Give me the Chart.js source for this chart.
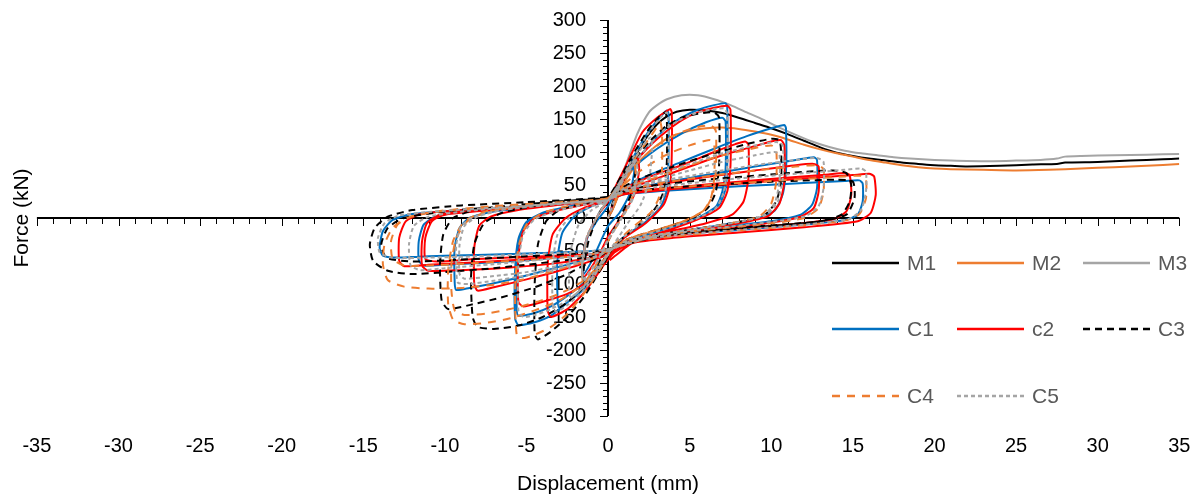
<!DOCTYPE html>
<html>
<head>
<meta charset="utf-8">
<script src="https://cdn.jsdelivr.net/npm/chart.js@4.4.1/dist/chart.umd.min.js"></script>
<style>
  html, body { margin: 0; padding: 0; background: #fff; }
  #wrap { position: relative; width: 1201px; height: 499px; }
  #legend { position: absolute; left: 0; top: 0; width: 1201px; height: 499px; pointer-events: none; }
  .li { position: absolute; height: 20px; display: flex; align-items: center; }
  .li span { font-family: "Liberation Sans", Arial, sans-serif; font-size: 21px; color: #595959; margin-left: 8px; line-height: 20px; }
</style>
</head>
<body>
<div id="wrap">
  <canvas id="c" width="1201" height="499"></canvas>
  <div id="legend"></div>
</div>
<script>
// ---------------- data (displacement mm, force kN) ----------------
const M1 = [[0,0],[0.3,15],[0.7,40],[1.2,70],[1.8,100],[2.4,124],[3,142],[3.6,154],[4.2,161],[5,164],[6,163],[7,159],[8,152],[9,144],[10,136],[11,127],[12,117],[13,107],[14,99],[15,94],[16,90],[17,87],[18,84],[19,82],[20,80],[21,79],[22,78],[24,79],[26,81],[27.5,82],[28,84],[30,85],[32,87],[34,89],[35,90]];
const M2 = [[0,0],[0.3,14],[0.7,38],[1.2,62],[1.8,83],[2.5,100],[3.2,114],[4,125],[5,132],[6,136],[7,137],[8,135],[9,131],[10,126],[11,119],[12,111],[13,104],[14,98],[15,93],[16,88],[17,84],[18,80],[19,77],[20,75],[21,74],[23,73],[25,72],[27,73],[29,75],[31,77],[33,79],[35,82]];
const M3 = [[0,0],[0.3,20],[0.7,52],[1.2,88],[1.8,128],[2.5,160],[3,171],[3.6,180],[4.5,186],[5.5,186],[6.5,180],[7.5,171],[8.5,160],[9.5,149],[10.5,137],[11.5,126],[12.5,116],[13.5,108],[14.5,102],[15.5,98],[16.5,95],[17.5,92],[18.5,90],[20,88],[21,87],[23,86],[25,87],[26.5,88],[27.5,90],[28,93],[29,94],[31,95],[33,96],[35,97]];

const C1 = [[0,0],[0.5,35],[1,65],[1.5,85],[1.6,70],[1.3,35],[0.7,8],[0,-12],[-0.5,-38],[-1,-65],[-1.5,-85],[-1.6,-65],[-1.3,-32],[-0.7,-5],[0,18],
[0.5,42],[1.5,90],[2.5,132],[3.3,156],[3.6,163],[3.7,158],[3.7,90],[3.6,42],[3.2,16],[2.2,-8],[1,-28],[0.3,-45],[-0.5,-75],[-1.5,-108],[-2.5,-128],[-3,-136],[-3.1,-120],[-3.1,-62],[-2.8,-22],[-2,4],[-1,18],[0,28],
[0.6,50],[1.5,80],[2.5,110],[3.5,135],[4.5,152],[5.5,164],[6.5,171],[7.2,174],[7.3,168],[7.3,80],[7.2,45],[6.8,20],[5.5,0],[3.5,-17],[1.5,-32],[0.4,-46],[-0.5,-74],[-1.5,-104],[-2.5,-128],[-3.5,-148],[-4.5,-158],[-5.5,-162],[-5.7,-152],[-5.7,-80],[-5.5,-32],[-5,-6],[-4,8],[-2.5,17],[-1,24],[0,28],
[0.6,48],[1.5,75],[3,105],[4.5,128],[6,145],[7,152],[7.2,146],[7.2,75],[7,40],[6.6,17],[5.4,-1],[3.4,-17],[1.4,-32],[0.4,-46],[-0.5,-70],[-1.5,-98],[-2.5,-118],[-3.5,-134],[-4.5,-144],[-5.5,-148],[-5.6,-138],[-5.6,-75],[-5.4,-30],[-4.9,-5],[-3.9,8],[-2.4,17],[-1,24],[0,28],
[1,45],[2.5,65],[4.5,85],[6.5,105],[8.5,124],[10,136],[10.8,141],[10.9,136],[10.9,70],[10.7,36],[10.2,11],[9,-2],[6,-14],[3,-26],[1,-37],[0.3,-46],[-1,-60],[-3,-74],[-5,-87],[-7,-99],[-8.5,-106],[-9.3,-109],[-9.4,-98],[-9.4,-45],[-9.1,-15],[-8.5,0],[-7,10],[-4,18],[-1.5,24],[0,28],
[1,40],[3,52],[6,65],[9,78],[11.5,88],[12.6,92],[12.8,88],[12.8,45],[12.5,20],[11.8,5],[10,-5],[6,-16],[3,-26],[1,-37],[0.3,-46],[-1,-55],[-4,-62],[-7,-67],[-10,-71],[-11.3,-72],[-11.6,-64],[-11.6,-35],[-11.3,-10],[-10.5,3],[-8,12],[-5,18],[-2,24],[0,28],
[1,36],[4,42],[8,48],[12,53],[14.5,56],[15.4,57],[15.6,52],[15.6,25],[15.3,5],[14.5,-3],[12,-10],[8,-18],[4,-26],[1,-38],[0.3,-46],[-1,-50],[-4,-53],[-8,-56],[-11,-58],[-13,-60],[-13.8,-57],[-14,-45],[-13.8,-20],[-13.2,-3],[-12,6],[-9,12],[-5,18],[-2,24],[0,28]];

const c2 = [[0,0],[0.5,35],[1,60],[1.8,90],[1.9,72],[1.6,35],[0.9,5],[0,-28],[-0.6,-58],[-1.5,-90],[-1.6,-70],[-1.3,-30],[-0.6,5],[0,25],
[0.5,50],[1.2,85],[2.1,130],[3,152],[3.8,165],[3.9,160],[3.9,95],[3.8,50],[3.4,20],[2.3,-8],[1,-30],[0.3,-50],[-0.5,-80],[-1.5,-114],[-2.5,-138],[-3.5,-150],[-3.7,-140],[-3.7,-70],[-3.4,-25],[-2.6,0],[-1.5,15],[0,28],
[0.6,50],[1.5,80],[2.5,108],[3.5,130],[4.5,148],[5.5,160],[6.5,167],[7.3,170],[7.5,164],[7.5,80],[7.3,40],[6.8,15],[5.5,-2],[3.5,-20],[1.5,-35],[0.4,-52],[-0.5,-78],[-1.5,-100],[-2.5,-115],[-4,-127],[-5.2,-134],[-5.5,-127],[-5.5,-60],[-5.2,-20],[-4.5,0],[-3,12],[-1.5,20],[0,28],
[1,45],[2.5,62],[4.5,80],[6.5,100],[7.8,112],[8.4,116],[8.6,111],[8.6,60],[8.3,25],[7.6,5],[6,-8],[3.5,-22],[1.2,-36],[0.4,-50],[-1,-65],[-3,-80],[-5,-93],[-7,-105],[-8,-110],[-8.2,-100],[-8.2,-45],[-7.9,-12],[-7.2,2],[-5.5,12],[-3,20],[-1,25],[0,28],
[1,42],[3,60],[5,78],[7,95],[9,109],[10.2,117],[10.6,118],[10.8,110],[10.8,55],[10.5,22],[9.8,3],[8,-8],[5,-20],[2,-32],[0.4,-50],[-1,-60],[-3,-68],[-6,-75],[-9,-79],[-11,-80],[-11.4,-72],[-11.4,-35],[-11.1,-8],[-10.3,5],[-8,12],[-5,18],[-2,24],[0,28],
[1,40],[3,50],[6,62],[9,72],[11.5,80],[12.6,82],[12.9,78],[12.9,40],[12.6,15],[11.8,2],[10,-7],[7,-16],[4,-25],[1.5,-34],[0.4,-50],[-1,-55],[-4,-61],[-8,-67],[-11,-71],[-12.5,-73],[-12.8,-65],[-12.8,-30],[-12.4,-5],[-11.5,6],[-9,12],[-5,18],[-2,24],[0,28],
[1,38],[4,46],[8,55],[11.5,62],[13.5,66],[14.5,68],[14.8,65],[14.9,35],[14.6,10],[13.8,-2],[11,-10],[7,-18],[4,-26],[1.5,-34],[0.4,-52],[-1,-55],[-4,-58],[-8,-62],[-10.5,-66],[-11.2,-62],[-11.2,-30],[-10.8,-5],[-10,5],[-7,12],[-4,18],[-1.5,24],[0,28],
[1,36],[4,44],[8,52],[12,60],[15,65],[16,67],[16.3,63],[16.4,35],[16.1,8],[15.3,-5],[12,-14],[8,-22],[4,-30],[1.5,-38],[0.5,-56],[0.1,-64]];

const C3 = [[0,0],[0.5,40],[1,70],[1.6,95],[1.7,75],[1.4,35],[0.7,0],[0,-35],[-0.6,-70],[-1.4,-105],[-1.5,-80],[-1.2,-35],[-0.6,5],[0,30],
[0.5,50],[1.5,95],[2.5,135],[3.2,155],[3.5,160],[3.6,150],[3.6,85],[3.4,40],[2.9,15],[2,-8],[1,-28],[0.3,-45],[-0.5,-80],[-1.5,-120],[-2.5,-150],[-3.5,-172],[-4.3,-184],[-4.5,-175],[-4.5,-100],[-4.3,-40],[-3.8,-5],[-3,12],[-1.5,22],[0,30],
[0.7,55],[1.5,85],[2.5,115],[3.5,138],[4.5,152],[5.5,158],[6.5,160],[6.8,152],[6.8,80],[6.6,40],[6.1,15],[5,-2],[3,-18],[1.2,-32],[0.3,-46],[-0.5,-75],[-1.5,-105],[-2.5,-128],[-4,-150],[-5.5,-163],[-7,-168],[-8,-165],[-8.3,-150],[-8.4,-90],[-8.2,-40],[-7.6,-8],[-6.5,8],[-4.5,18],[-2,25],[0,30],
[1,48],[2.5,65],[4.5,82],[6.5,98],[8.5,112],[10,120],[10.5,118],[10.6,100],[10.6,55],[10.3,25],[9.6,5],[8,-6],[5,-18],[2,-30],[0.3,-46],[-1,-65],[-2.5,-85],[-4.5,-105],[-6.5,-120],[-8.5,-132],[-9.8,-138],[-10.2,-125],[-10.3,-70],[-10.1,-25],[-9.5,0],[-8,13],[-5,21],[-2,27],[0,31],
[1,42],[3,50],[6,58],[9,64],[12,70],[13.8,72],[14.6,68],[14.9,50],[14.8,25],[14.3,5],[13,-5],[10,-12],[6,-20],[3,-28],[0.5,-44],[-1,-58],[-4,-68],[-7,-76],[-10,-82],[-12,-85],[-13.5,-80],[-14.4,-65],[-14.6,-40],[-14.3,-15],[-13.5,2],[-12,12],[-9,19],[-5,24],[-2,28],[0,32],
[1,40],[5,48],[10,55],[14,58],[15,55],[15.1,30],[14.6,5],[13,-5],[8,-15],[3,-28],[0.5,-44],[-1,-52],[-5,-58],[-9,-63],[-12,-66],[-13.6,-60],[-13.9,-40],[-13.5,-15],[-12.5,0],[-10,10],[-5,20],[0,30]];

const C4 = [[0,0],[0.5,30],[1,55],[1.6,80],[1.7,62],[1.4,25],[0.7,-5],[0,-35],[-0.6,-65],[-1.5,-100],[-1.6,-75],[-1.3,-30],[-0.6,5],[0,28],
[0.5,45],[1.5,85],[2.5,120],[3,138],[3.2,145],[3.3,130],[3.3,70],[3.1,30],[2.6,8],[1.6,-12],[0.8,-30],[0.2,-45],[-0.5,-78],[-1.5,-115],[-2.5,-145],[-3.5,-165],[-4.5,-177],[-5.2,-182],[-5.6,-177],[-5.7,-110],[-5.5,-45],[-5,-10],[-4,8],[-2.5,18],[-1,25],[0,30],
[0.7,50],[1.5,75],[2.5,100],[3.5,118],[4.5,130],[5.5,138],[6.3,140],[6.6,132],[6.6,70],[6.4,35],[5.9,12],[4.8,-3],[3,-18],[1.2,-32],[0.3,-46],[-0.5,-72],[-1.5,-100],[-3,-125],[-4.5,-140],[-6,-152],[-7.5,-159],[-8.8,-161],[-9.5,-154],[-9.8,-130],[-9.8,-80],[-9.5,-35],[-8.8,-5],[-7.5,10],[-5,19],[-2,25],[0,30],
[0.7,45],[2,72],[3.5,95],[5,110],[6.2,118],[6.5,112],[6.5,60],[6.3,30],[5.8,10],[4.7,-4],[3,-18],[1.2,-32],[0.3,-46],[-0.5,-70],[-1.5,-95],[-3,-115],[-4.5,-128],[-6,-138],[-7.5,-145],[-8.8,-147],[-9.4,-140],[-9.6,-110],[-9.6,-70],[-9.3,-30],[-8.6,-4],[-7.3,10],[-5,18],[-2,24],[0,29],
[1,45],[3,62],[5,80],[7,95],[9,106],[10,110],[10.3,104],[10.3,55],[10,22],[9.3,3],[7.5,-8],[4.5,-20],[2,-30],[0.3,-46],[-1,-62],[-3,-78],[-5,-92],[-7,-101],[-9,-106],[-11,-107],[-12.5,-104],[-13.5,-94],[-13.8,-70],[-13.7,-40],[-13.2,-15],[-12.3,0],[-10.5,10],[-7,18],[-3,24],[0,29],
[1,40],[3,52],[6,63],[9,72],[11.5,78],[12.8,80],[13.2,74],[13.2,40],[12.9,15],[12,0],[10,-8],[6,-18],[3,-27],[0.5,-44],[-1,-55],[-4,-62],[-8,-68],[-11,-72],[-12.5,-72],[-13.2,-62],[-13.3,-35],[-12.9,-10],[-12,3],[-9.5,12],[-5,19],[-2,25],[0,29],
[1,38],[4,46],[8,53],[12,59],[14.5,63],[15.5,64],[15.8,58],[15.8,30],[15.4,6],[14.5,-4],[11.5,-12],[7.5,-20],[4,-28],[1.5,-36],[0.3,-48]];

const C5 = [[0,0],[0.5,35],[1,62],[1.7,88],[1.8,70],[1.5,30],[0.8,0],[0,-32],[-0.6,-62],[-1.5,-95],[-1.6,-72],[-1.3,-30],[-0.6,5],[0,27],
[0.5,40],[1,60],[1.7,84],[1.8,65],[1.5,28],[0.8,-2],[0,-34],[-0.6,-62],[-1.5,-92],[-1.6,-70],[-1.3,-28],[-0.6,6],[0,27],
[0.5,42],[1.2,72],[2.2,112],[2.6,122],[2.7,105],[2.5,55],[2,20],[1.2,-8],[0.4,-38],[-0.5,-70],[-1.5,-104],[-2.3,-120],[-2.4,-100],[-2.3,-50],[-1.8,-10],[-1,12],[0,27],
[0.5,45],[1.5,90],[2.5,130],[3.2,152],[3.6,160],[3.7,150],[3.7,85],[3.5,40],[3,15],[2,-8],[1,-28],[0.3,-44],[-0.5,-75],[-1.5,-110],[-2.5,-132],[-3.2,-142],[-3.4,-130],[-3.4,-70],[-3.1,-25],[-2.4,0],[-1.3,15],[0,27],
[0.6,50],[1.5,80],[2.5,110],[3.5,135],[4.5,150],[5.5,160],[6.5,165],[7.1,166],[7.3,158],[7.3,80],[7.1,40],[6.6,15],[5.3,-2],[3.3,-18],[1.3,-33],[0.3,-46],[-0.5,-75],[-1.5,-105],[-2.5,-125],[-3.5,-138],[-4.5,-147],[-5.2,-150],[-5.5,-140],[-5.5,-70],[-5.2,-25],[-4.5,-2],[-3,12],[-1.5,20],[0,27],
[1,45],[3,65],[5,82],[7,98],[9,110],[10.3,115],[10.7,110],[10.7,60],[10.4,25],[9.7,5],[8,-6],[5,-18],[2,-30],[0.3,-46],[-1,-62],[-3,-76],[-5,-87],[-7,-95],[-8.5,-100],[-9.2,-98],[-9.3,-80],[-9.3,-40],[-9,-12],[-8.2,2],[-6.5,12],[-4,19],[-1.5,24],[0,27],
[1,42],[3,58],[5,72],[7,85],[9,95],[10.2,100],[10.5,96],[10.5,55],[10.2,22],[9.5,4],[8,-6],[5,-18],[2,-30],[0.3,-46],[-1,-60],[-3,-72],[-5,-82],[-7,-88],[-8.8,-92],[-9.1,-85],[-9.1,-40],[-8.8,-12],[-8,2],[-6.5,12],[-4,19],[-1.5,24],[0,27],
[1,42],[3,55],[6,68],[9,80],[11.5,88],[12.8,91],[13.2,85],[13.2,45],[12.9,18],[12.1,3],[10,-6],[6,-17],[3,-27],[0.4,-45],[-1,-55],[-4,-63],[-7,-70],[-10,-76],[-11.5,-79],[-12.1,-72],[-12.2,-40],[-11.9,-12],[-11,2],[-8.5,11],[-5,18],[-2,24],[0,27],
[1,40],[4,50],[8,60],[12,68],[14.5,73],[15.5,75],[15.8,70],[15.8,40],[15.5,12],[14.7,-2],[12,-10],[8,-18],[4,-26],[1.5,-35],[0.3,-46],[-1,-50],[-4,-54],[-8,-58],[-11,-60],[-13.3,-60],[-14,-52],[-14.1,-30],[-13.7,-8],[-12.8,4],[-10,11],[-6,17],[-2,24],[0,27]];

const seriesNames = ['M1', 'M2', 'M3', 'C1', 'c2', 'C3', 'C4', 'C5'];
const seriesData  = [M1, M2, M3, C1, c2, C3, C4, C5];
const seriesColors = ['#000000', '#ED7D31', '#A5A5A5', '#0070C0', '#FF0000', '#000000', '#ED7D31', '#A5A5A5'];
const seriesDash = [[], [], [], [], [], [7, 5], [8, 7], [4, 3]];

const xRange = [-35, 35];
const yRange = [-300, 300];
const xStep = 5, yStep = 50;
const xMinorStep = 1, yMinorStep = 10;

// ---------------- axis plugin: axis lines through 0, tick marks, y labels ----------------
const axisDeco = {
  id: 'axisDeco',
  beforeDatasetsDraw(chart) {
    const { ctx, scales } = chart;
    const xs = scales.x, ys = scales.y;
    const x0 = Math.round(xs.getPixelForValue(0));
    const y0 = Math.round(ys.getPixelForValue(0));
    const xL = xs.getPixelForValue(xRange[0]), xR = xs.getPixelForValue(xRange[1]);
    const yT = ys.getPixelForValue(yRange[1]), yB = ys.getPixelForValue(yRange[0]);
    ctx.save();
    ctx.strokeStyle = '#000';
    ctx.lineWidth = 1;
    for (let v = yRange[0]; v <= yRange[1]; v += yMinorStep) {
      const py = Math.round(ys.getPixelForValue(v)) + 0.5;
      const len = (v % yStep === 0) ? 8 : 5;
      ctx.beginPath(); ctx.moveTo(x0 - len, py); ctx.lineTo(x0, py); ctx.stroke();
    }
    for (let v = xRange[0]; v <= xRange[1]; v += xMinorStep) {
      const px = Math.round(xs.getPixelForValue(v)) + 0.5;
      const len = (v % xStep === 0) ? 8 : 6;
      ctx.beginPath(); ctx.moveTo(px, y0); ctx.lineTo(px, y0 + len); ctx.stroke();
    }
    ctx.lineWidth = 2;
    ctx.beginPath(); ctx.moveTo(xL, y0); ctx.lineTo(xR, y0); ctx.stroke();
    ctx.beginPath(); ctx.moveTo(x0, yT); ctx.lineTo(x0, yB); ctx.stroke();
    ctx.font = '20px "Liberation Sans", Arial, sans-serif';
    ctx.fillStyle = '#000';
    ctx.textAlign = 'right';
    ctx.textBaseline = 'middle';
    ys.ticks.forEach(t => {
      ctx.fillText(t.label, x0 - 22, ys.getPixelForValue(t.value));
    });
    ctx.restore();
  }
};

const datasets = seriesData.map((d, i) => ({
  label: seriesNames[i],
  data: d.map(p => ({ x: p[0], y: p[1] })),
  borderColor: seriesColors[i],
  backgroundColor: seriesColors[i],
  borderWidth: 2,
  borderDash: seriesDash[i],
  showLine: true,
  pointRadius: 0,
  tension: 0.2,
  fill: false,
  order: seriesData.length - i,
  xAxisID: 'x',
  yAxisID: 'y'
}));

const fontFam = '"Liberation Sans", Arial, sans-serif';

new Chart(document.getElementById('c'), {
  type: 'scatter',
  data: { datasets },
  plugins: [axisDeco],
  options: {
    responsive: false,
    animation: false,
    devicePixelRatio: 1,
    layout: { autoPadding: false, padding: { left: 9.5, right: 21.7, top: 20, bottom: 2.4 } },
    plugins: { legend: { display: false }, tooltip: { enabled: false } },
    scales: {
      x: {
        type: 'linear', position: 'bottom', min: xRange[0], max: xRange[1],
        grid: { display: false, drawTicks: false },
        border: { display: false },
        ticks: { stepSize: xStep, padding: 18, color: '#000', font: { family: fontFam, size: 20 }, maxRotation: 0, autoSkip: false },
        title: { display: true, text: 'Displacement (mm)', color: '#000', font: { family: fontFam, size: 21 }, padding: { top: 0, bottom: 0 } },
        afterFit(scale) {
          scale.paddingLeft = 0;
          scale.paddingRight = 0;
          scale.height = 80.6;
        }
      },
      y: {
        type: 'linear', position: 'left', min: yRange[0], max: yRange[1],
        grid: { display: false, drawTicks: false },
        border: { display: false },
        ticks: { display: false, stepSize: yStep },
        title: { display: true, text: 'Force (kN)', color: '#000', font: { family: fontFam, size: 21 }, padding: { top: 0, bottom: 2.2 } }
      }
    }
  }
});

// ---------------- HTML legend ----------------
const legendCols = [832, 957, 1083];
const legendRows = [263, 329, 396];
const legendEl = document.getElementById('legend');
seriesNames.forEach((name, i) => {
  const col = i % 3, row = Math.floor(i / 3);
  const item = document.createElement('div');
  item.className = 'li';
  item.style.left = legendCols[col] + 'px';
  item.style.top = (legendRows[row] - 10) + 'px';
  const dash = seriesDash[i].length ? seriesDash[i].join(',') : 'none';
  item.innerHTML = '<svg width="67" height="20"><line x1="0" y1="10" x2="67" y2="10" stroke="' + seriesColors[i] +
    '" stroke-width="2.5" stroke-dasharray="' + dash + '"/></svg><span>' + name + '</span>';
  legendEl.appendChild(item);
});
</script>
</body>
</html>
